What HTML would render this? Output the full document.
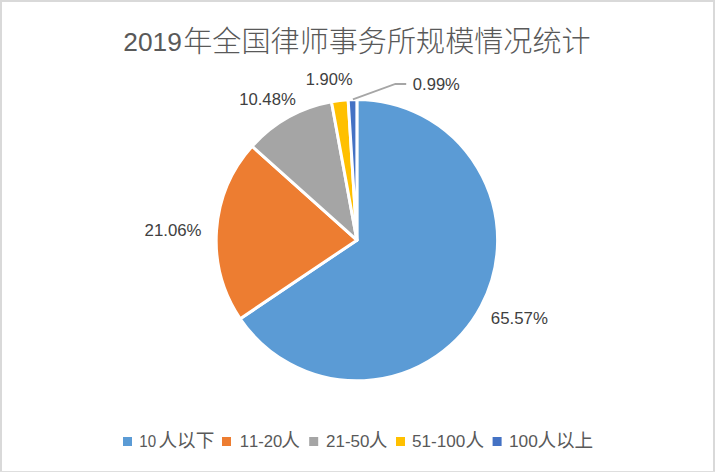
<!DOCTYPE html>
<html lang="zh-CN">
<head>
<meta charset="utf-8">
<title>2019年全国律师事务所规模情况统计</title>
<style>
html,body{margin:0;padding:0;background:#fff}
body{width:715px;height:472px;overflow:hidden;font-family:"Liberation Sans",sans-serif}
svg{display:block}
svg text{font-family:"Liberation Sans","Noto Sans CJK SC",sans-serif;font-kerning:none;white-space:pre}
</style>
</head>
<body>
<svg width="715" height="472" viewBox="0 0 715 472" role="img" aria-label="2019年全国律师事务所规模情况统计 饼图：10人以下 65.57%，11-20人 21.06%，21-50人 10.48%，51-100人 1.90%，100人以上 0.99%">
<desc>2019年全国律师事务所规模情况统计 — 10人以下 65.57%; 11-20人 21.06%; 21-50人 10.48%; 51-100人 1.90%; 100人以上 0.99%</desc>
<rect x="0" y="0" width="715" height="472" fill="#fff"/>
<rect x="0" y="0" width="715" height="2" fill="#d9d9d9"/>
<rect x="0" y="0" width="2" height="472" fill="#d9d9d9"/>
<rect x="713" y="0" width="2" height="472" fill="#d9d9d9"/>
<rect x="0" y="471" width="715" height="1" fill="#dedede"/>
<text transform="translate(123.28 51.05) scale(1.0407 1)" font-size="25.3" fill="#595959">2019</text>
<text x="183.28" y="51.8" font-size="29.1" font-weight="300" fill="#595959" textLength="407.4" lengthAdjust="spacingAndGlyphs">年全国律师事务所规模情况统计</text>
<g stroke="#fff" stroke-width="3.0" stroke-linejoin="round">
<path d="M356.9 240.15L356.90 99.45A140.7 140.7 0 1 1 240.18 318.72Z" fill="#5b9bd5"/>
<path d="M356.9 240.15L240.18 318.72A140.7 140.7 0 0 1 252.12 146.24Z" fill="#ed7d31"/>
<path d="M356.9 240.15L252.12 146.24A140.7 140.7 0 0 1 331.49 101.76Z" fill="#a5a5a5"/>
<path d="M356.9 240.15L331.49 101.76A140.7 140.7 0 0 1 348.15 99.72Z" fill="#ffc000"/>
<path d="M356.9 240.15L348.15 99.72A140.7 140.7 0 0 1 356.90 99.45Z" fill="#4472c4"/>
</g>
<polyline points="352.9,99.3 395.4,84 406.2,84" fill="none" stroke="#a6a6a6" stroke-width="1.8"/>
<text transform="translate(490.84 323.83) scale(0.9972 1)" font-size="16.9" fill="#404040">65.57%</text>
<text transform="translate(144.55 235.83) scale(0.9952 1)" font-size="16.9" fill="#404040">21.06%</text>
<text transform="translate(239.13 104.73) scale(0.9887 1)" font-size="16.9" fill="#404040">10.48%</text>
<text transform="translate(305.84 84.63) scale(0.9755 1)" font-size="16.9" fill="#404040">1.90%</text>
<text transform="translate(412.85 90.03) scale(0.9816 1)" font-size="16.9" fill="#404040">0.99%</text>
<rect x="123" y="437" width="9" height="9" fill="#5b9bd5"/>
<rect x="222" y="437" width="9" height="9" fill="#ed7d31"/>
<rect x="309.2" y="437" width="9" height="9" fill="#a5a5a5"/>
<rect x="396" y="437" width="9" height="9" fill="#ffc000"/>
<rect x="492.6" y="437" width="9" height="9" fill="#4472c4"/>
<text transform="translate(139.35 446.63) scale(0.8961 1)" font-size="16.9" fill="#595959">10</text>
<text transform="translate(239.73 446.63) scale(0.9836 1)" font-size="16.9" fill="#595959">11-20</text>
<text transform="translate(326.05 446.63) scale(1.0045 1)" font-size="16.9" fill="#595959">21-50</text>
<text transform="translate(412.01 446.63) scale(1.0139 1)" font-size="16.9" fill="#595959">51-100</text>
<text transform="translate(508.88 446.63) scale(1.0248 1)" font-size="16.9" fill="#595959">100</text>
<text x="158.48" y="447.3" font-size="18.6" fill="#595959" textLength="55.8" lengthAdjust="spacingAndGlyphs">人以下</text>
<text x="281.18" y="447.3" font-size="18.6" fill="#595959">人</text>
<text x="368.78" y="447.3" font-size="18.6" fill="#595959">人</text>
<text x="465.48" y="447.3" font-size="18.6" fill="#595959">人</text>
<text x="537.38" y="447.3" font-size="18.6" fill="#595959" textLength="55.8" lengthAdjust="spacingAndGlyphs">人以上</text>
</svg>
</body>
</html>
